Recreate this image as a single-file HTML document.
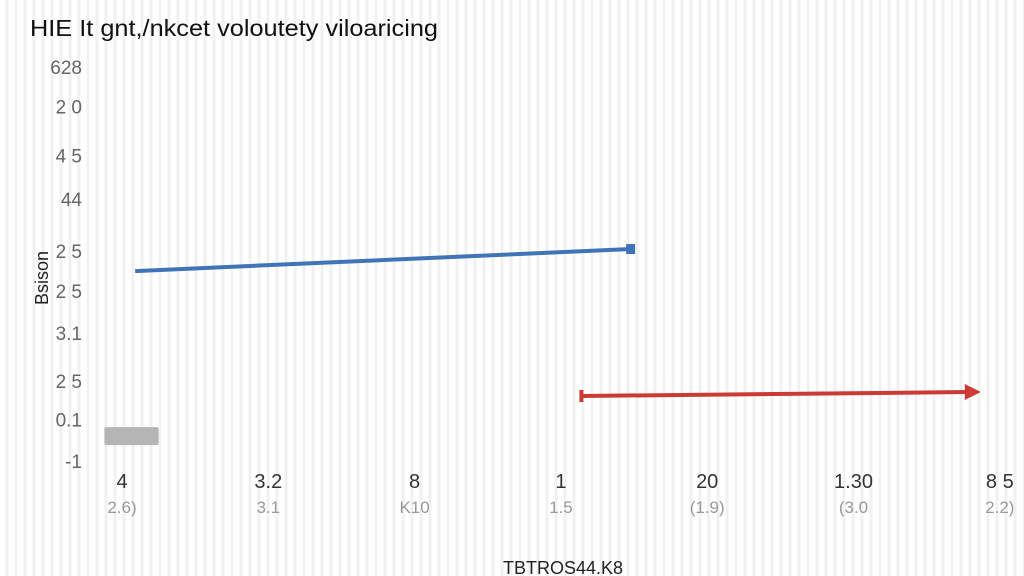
<!DOCTYPE html>
<html><head><meta charset="utf-8"><style>
body{margin:0;width:1024px;height:576px;overflow:hidden;background:#fff;font-family:"Liberation Sans",sans-serif;}
#bg{position:absolute;left:0;top:0;width:1024px;height:576px;background:repeating-linear-gradient(90deg,#fff 0px,#fff 5px,#f1f1f1 6px,#f1f1f1 8px,#fff 9px);}
svg{position:absolute;left:0;top:0;}
</style></head><body>
<div id="bg"></div>
<svg id="chart" width="1024" height="576">
<text x="30" y="36" font-size="23" fill="#111" textLength="408" lengthAdjust="spacingAndGlyphs">HIE It gnt,/nkcet voloutety vilоaricing</text>
<g id="yticks"></g>
<g id="xticks"></g>
<text x="48" y="278" font-size="18" fill="#222" transform="rotate(-90 48 278)" text-anchor="middle">Bsison</text>
<text x="563" y="574" font-size="18" fill="#222" text-anchor="middle">TBTROS44.K8</text>
<g id="marks"></g>
</svg>
<script>
const yTickLabels=["628","2 0","4 5","44","2 5","2 5","3.1","2 5","0.1","-1"];
const yTickValues=[10,9,7.75,6.65,5.33,4.32,3.25,2.03,1.05,0];
const xLabels1=["4","3.2","8","1","20","1.30","8 5"];
const xLabels2=["2.6)","3.1","K10","1.5","(1.9)","(3.0","2.2)"];
const blueX=[0.09,3.48], blueY=[4.82,5.38];
const redX=[3.14,5.87], redY=[1.65,1.75];
const grayX=[-0.12,0.25], grayY=[0.63];
const xs=v=>122+v*146.3, ys=v=>461-v*39.4;
const NS="http://www.w3.org/2000/svg";
function mk(t,a,p){const e=document.createElementNS(NS,t);for(const k in a)e.setAttribute(k,a[k]);p.appendChild(e);return e;}
const yg=document.getElementById('yticks'),xg=document.getElementById('xticks'),mg=document.getElementById('marks');
yTickLabels.forEach((l,i)=>{const t=mk('text',{x:82,y:ys(yTickValues[i])+7,'font-size':19,fill:'#666','text-anchor':'end'},yg);t.textContent=l;

});
xLabels1.forEach((l,i)=>{const t=mk('text',{x:xs(i),y:488,'font-size':20,fill:'#333','text-anchor':'middle'},xg);t.textContent=l;


const t2=mk('text',{x:xs(i),y:513,'font-size':17,fill:'#999','text-anchor':'middle'},xg);t2.textContent=xLabels2[i];

});
const bl=mk('line',{x1:xs(blueX[0]),y1:ys(blueY[0]),x2:xs(blueX[1]),y2:ys(blueY[1]),stroke:'#3f74b8','stroke-width':4},mg);


const bm=mk('rect',{x:xs(blueX[1])-5,y:ys(blueY[1])-5,width:9,height:10,fill:'#3f74b8'},mg);


const rl=mk('line',{x1:xs(redX[0]),y1:ys(redY[0]),x2:xs(redX[1])-12,y2:ys(redY[1]),stroke:'#cc3a35','stroke-width':4},mg);


const rs=mk('rect',{x:xs(redX[0])-2,y:ys(redY[0])-6,width:4,height:12,fill:'#cc3a35'},mg);


const ex=xs(redX[1]),ey=ys(redY[1]);
const ra=mk('polygon',{points:`${ex},${ey} ${ex-16},${ey-8} ${ex-16},${ey+8}`,fill:'#cc3a35'},mg);


const gr=mk('rect',{x:xs(grayX[0]),y:ys(grayY[0])-9,width:xs(grayX[1])-xs(grayX[0]),height:18,rx:2,fill:'#b5b5b5'},mg);


</script>
</body></html>
